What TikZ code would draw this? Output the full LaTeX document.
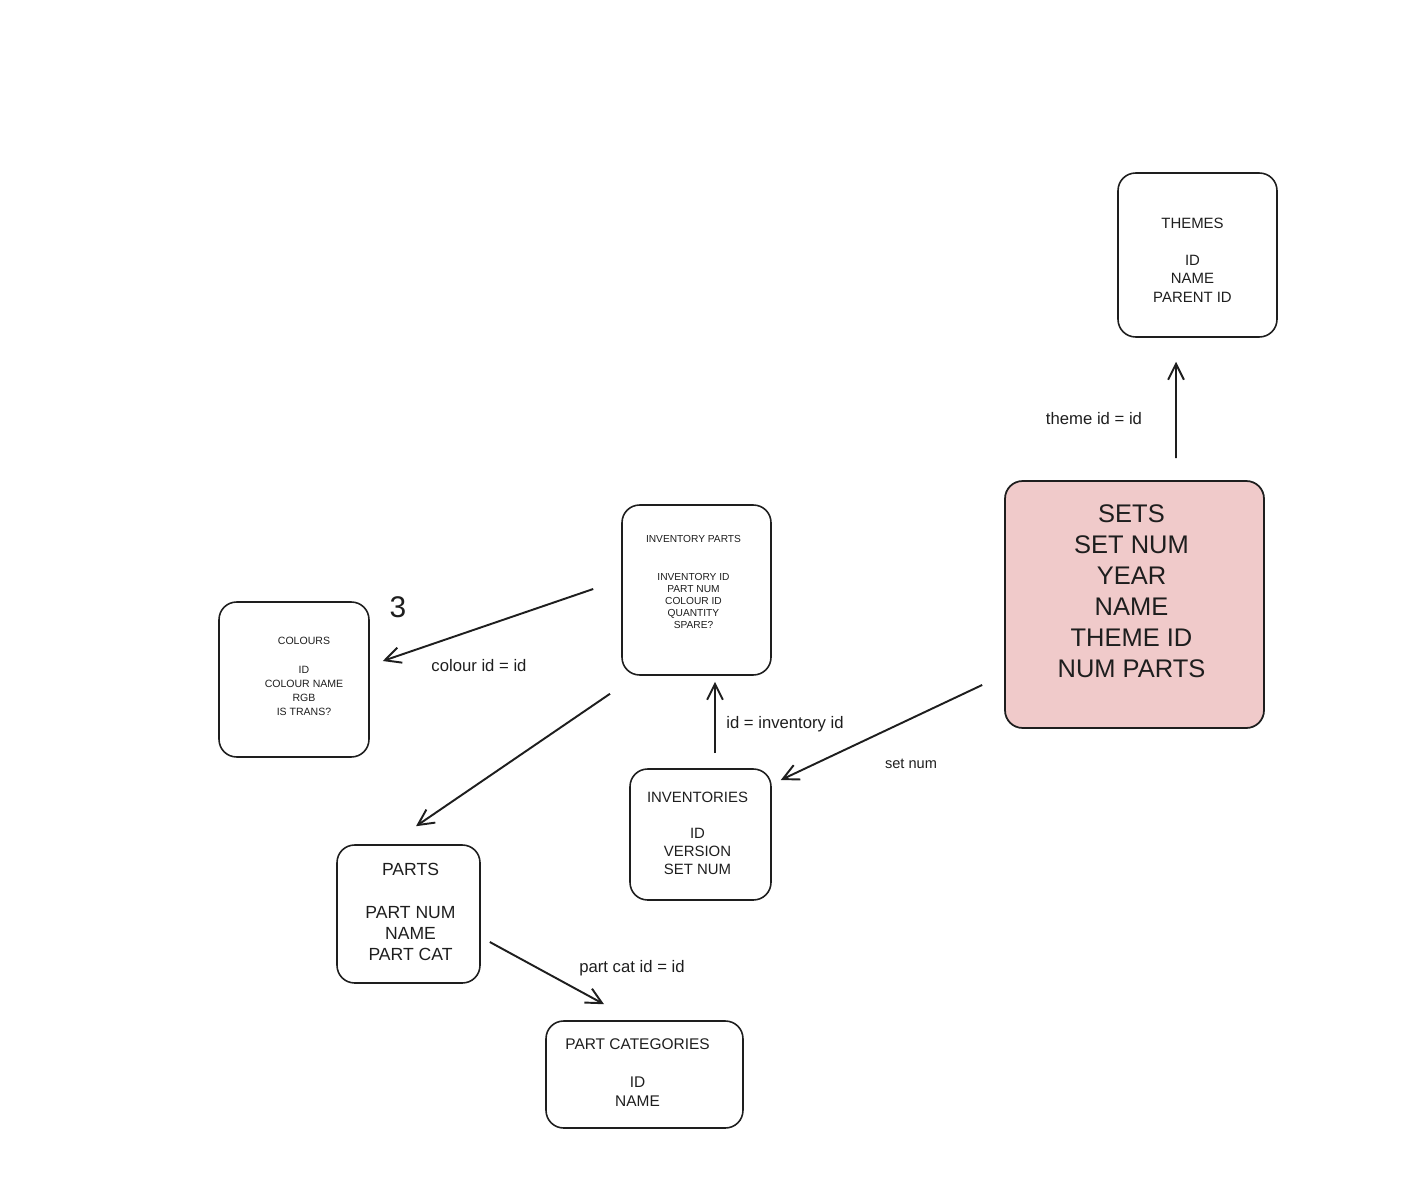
\documentclass[tikz,border=0pt]{standalone}
\usepackage{fontspec}
\setsansfont{Liberation Sans}
\usepackage{tikz}
\usetikzlibrary{arrows.meta, positioning, calc}
\definecolor{SetsPink}{HTML}{F0CACA}
\definecolor{InkBlack}{HTML}{1E1E1E}
\tikzset{
  tablebox/.style={rectangle, rounded corners=10pt, draw=InkBlack, line width=0.9pt, fill=white},
  mainbox/.style={tablebox, fill=SetsPink, line width=1pt},
  fields/.style={align=center, text=InkBlack, inner sep=0pt},
  arrow/.style={-{Straight Barb[length=9pt, width=9pt]}, line width=1.1pt, InkBlack},
  joinlabel/.style={font=\sffamily\fontsize{9.5}{11}\selectfont, text=InkBlack, inner sep=1pt}
}

\begin{document}
\begin{tikzpicture}[x=0.02cm, y=-0.02cm]
  \useasboundingbox (0,0) rectangle (1424,1199);

  % tables
  \node[tablebox, minimum width=3.18cm, minimum height=3.28cm] (themes) at (1197.5,255) {};
  \node[mainbox, minimum width=5.18cm, minimum height=4.94cm] (sets) at (1134.5,604.5) {};
  \node[tablebox, minimum width=2.98cm, minimum height=3.4cm] (invparts) at (696.5,590) {};
  \node[tablebox, minimum width=3cm, minimum height=3.1cm] (colours) at (294,679.5) {};
  \node[tablebox, minimum width=2.82cm, minimum height=2.62cm] (inventories) at (700.5,834.5) {};
  \node[tablebox, minimum width=2.86cm, minimum height=2.76cm] (parts) at (408.5,914) {};
  \node[tablebox, minimum width=3.94cm, minimum height=2.14cm] (partcats) at (644.5,1074.5) {};

  % table fields
  \node[fields, font=\sffamily\fontsize{8.5}{10.5}\selectfont] (themesfields) at ($(themes)+(-5,5)$) {THEMES\\[10.5pt]ID\\NAME\\PARENT ID};
  \node[fields, font=\sffamily\fontsize{14.5}{17.6}\selectfont] (setsfields) at ($(sets)+(-3,-13)$) {SETS\\SET NUM\\YEAR\\NAME\\THEME ID\\NUM PARTS};
  \node[fields, font=\sffamily\fontsize{5.8}{6.8}\selectfont] (invpartsfields) at ($(invparts)+(-3,-8)$) {INVENTORY PARTS\\[14.7pt]INVENTORY ID\\PART NUM\\COLOUR ID\\QUANTITY\\SPARE?};
  \node[fields, font=\sffamily\fontsize{6}{8}\selectfont] (coloursfields) at ($(colours)+(10,-3)$) {COLOURS\\[8pt]ID\\COLOUR NAME\\RGB\\IS TRANS?};
  \node[fields, font=\sffamily\fontsize{8.5}{10.2}\selectfont] (inventoriesfields) at ($(inventories)+(-3,-1)$) {INVENTORIES\\[10.2pt]ID\\VERSION\\SET NUM};
  \node[fields, font=\sffamily\fontsize{10}{12.2}\selectfont] (partsfields) at ($(parts)+(2,-2)$) {PARTS\\[12.2pt]PART NUM\\NAME\\PART CAT};
  \node[fields, font=\sffamily\fontsize{8.8}{10.8}\selectfont] (partcatsfields) at ($(partcats)+(-7,-2)$) {PART CATEGORIES\\[10.8pt]ID\\NAME};

  % join labels
  \node[joinlabel] (lbltheme) at (1094,419) {theme id = id};
  \node[joinlabel] (lblcolour) at (479,666) {colour id = id};
  \node[joinlabel] (lblinv) at (785,724) {id = inventory id};
  \node[joinlabel, font=\sffamily\fontsize{8.3}{10}\selectfont] (lblsetnum) at (911,764) {set num};
  \node[joinlabel] (lblpartcat) at (632,968) {part cat id = id};
  \node[font=\sffamily\fontsize{17}{20}\selectfont, text=InkBlack] (three) at (398,607) {3};

  % joins
  \draw[arrow] ($(sets.north)+(41.5,-22)$) -- ($(themes.south)+(-21.5,24)$);
  \draw[arrow] ($(invparts.west)+(-28,-1)$) -- ($(colours.east)+(13,-18.5)$);
  \draw[arrow] ($(invparts.south)+(-86.5,18)$) -- ($(parts.north)+(7.5,-18)$);
  \draw[arrow] ($(inventories.north)+(14.5,-15)$) -- ($(invparts.south)+(18.5,6)$);
  \draw[arrow] ($(sets.west)+(-22,80.5)$) -- ($(inventories.east)+(9,-54.5)$);
  \draw[arrow] ($(parts.east)+(9,28)$) -- ($(partcats.north)+(-40.5,-16)$);
\end{tikzpicture}
\end{document}
